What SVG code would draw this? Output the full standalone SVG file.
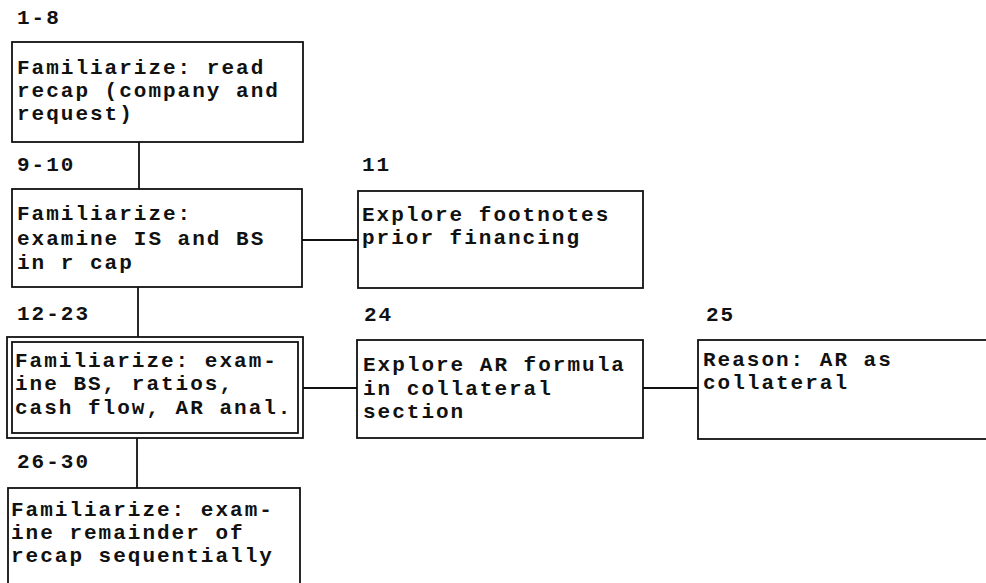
<svg xmlns="http://www.w3.org/2000/svg" width="986" height="583" viewBox="0 0 986 583">
<style>
.box{fill:#fff;stroke:#111;stroke-width:1.8}
.ln{fill:none;stroke:#111;stroke-width:1.8}
text{font-family:"Liberation Mono","Courier New",monospace;font-weight:bold;font-size:21px;letter-spacing:2px;fill:#111}
</style>
<rect width="986" height="583" fill="#fff"/>
<g id="connectors">
<line class="ln" x1="139" y1="142" x2="139" y2="189"/>
<line class="ln" x1="302" y1="240" x2="358" y2="240"/>
<line class="ln" x1="138" y1="287" x2="138" y2="337"/>
<line class="ln" x1="303" y1="388" x2="357" y2="388"/>
<line class="ln" x1="643" y1="388" x2="698" y2="388"/>
<line class="ln" x1="137" y1="438" x2="137" y2="488"/>
</g>
<g id="n1">
<text x="17" y="24">1-8</text>
<rect class="box" x="12" y="42" width="291" height="100"/>
<text x="17" y="74">Familiarize: read</text>
<text x="17" y="97">recap (company and</text>
<text x="17" y="120">request)</text>
</g>
<g id="n2">
<text x="17" y="171">9-10</text>
<rect class="box" x="12" y="189" width="290" height="98"/>
<text x="17" y="220">Familiarize:</text>
<text x="17" y="245">examine IS and BS</text>
<text x="17" y="269">in r cap</text>
</g>
<g id="n3">
<text x="362" y="171">11</text>
<rect class="box" x="358" y="191" width="285" height="97"/>
<text x="362" y="221">Explore footnotes</text>
<text x="362" y="244">prior financing</text>
</g>
<g id="n4">
<text x="17" y="320">12-23</text>
<rect class="box" x="7" y="337" width="296" height="101"/>
<rect class="box" x="12" y="342" width="286" height="91"/>
<text x="15" y="367">Familiarize: exam-</text>
<text x="15" y="390">ine BS, ratios,</text>
<text x="15" y="414">cash flow, AR anal.</text>
</g>
<g id="n5">
<text x="364" y="321">24</text>
<rect class="box" x="357" y="340" width="286" height="98"/>
<text x="363" y="371">Explore AR formula</text>
<text x="363" y="395">in collateral</text>
<text x="363" y="418">section</text>
</g>
<g id="n6">
<text x="706" y="321">25</text>
<rect class="box" x="698" y="340" width="300" height="99"/>
<text x="703" y="366">Reason: AR as</text>
<text x="703" y="389">collateral</text>
</g>
<g id="n7">
<text x="17" y="468">26-30</text>
<rect class="box" x="8" y="488" width="292" height="110"/>
<text x="11" y="516">Familiarize: exam-</text>
<text x="11" y="539">ine remainder of</text>
<text x="11" y="562">recap sequentially</text>
</g>
</svg>
